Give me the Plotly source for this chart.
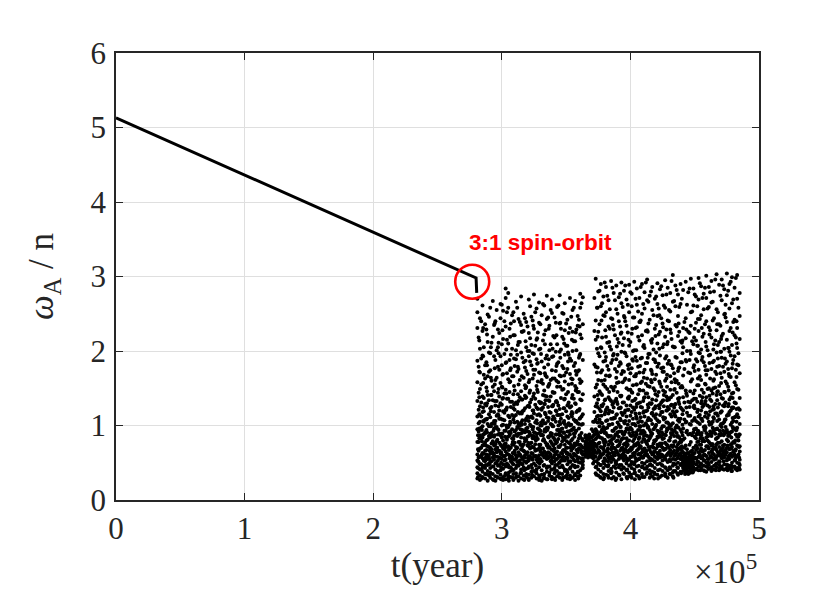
import plotly.graph_objects as go

# t in units of 1e5 years, spin rate in units of n
line_t = [0.0, 2.80, 2.805]
line_w = [5.13, 2.98, 2.78]

# tumbling phase
cloud_t = [2.81, 2.83, 2.85, 2.87, 2.89, 2.91, 2.93, 2.95, 2.97, 2.99,
           3.01, 3.03, 3.05, 3.07, 3.09, 3.11, 3.13, 3.15, 3.17, 3.19,
           3.21, 3.23, 3.25, 3.27, 3.29, 3.31, 3.33, 3.35, 3.37, 3.39,
           3.41, 3.43, 3.45, 3.47, 3.49, 3.51, 3.53, 3.55, 3.57, 3.59,
           3.61, 3.63, 3.65, 3.67, 3.69, 3.71, 3.73, 3.75, 3.77, 3.79,
           3.81, 3.83, 3.85, 3.87, 3.89, 3.91, 3.93, 3.95, 3.97, 3.99,
           4.01, 4.03, 4.05, 4.07, 4.09, 4.11, 4.13, 4.15, 4.17, 4.19,
           4.21, 4.23, 4.25, 4.27, 4.29, 4.31, 4.33, 4.35, 4.37, 4.39,
           4.41, 4.43, 4.45, 4.47, 4.49, 4.51, 4.53, 4.55, 4.57, 4.59,
           4.61, 4.63, 4.65, 4.67, 4.69, 4.71, 4.73, 4.75, 4.77, 4.79,
           4.81, 4.83, 4.85]
cloud_w = [
    [2.70, 2.52, 2.31, 0.44, 1.87, 0.61, 1.33, 0.29, 0.95, 1.12, 0.53, 0.78, 0.36, 1.58],
    [2.44, 0.33, 1.71, 0.87, 0.48, 1.26, 0.27, 2.03, 0.69, 1.05, 0.41, 0.58, 1.49],
    [0.38, 2.61, 1.18, 0.73, 0.31, 1.94, 0.56, 0.99, 1.39, 0.46, 2.27, 0.84, 0.63],
    [1.63, 0.52, 2.36, 0.29, 0.91, 0.66, 1.08, 0.43, 1.81, 0.35, 0.77, 1.29],
    [0.47, 1.41, 0.81, 2.12, 0.34, 0.60, 1.02, 0.26, 1.66, 0.72, 2.49, 0.39, 0.55],
    [2.58, 0.62, 1.23, 0.37, 0.89, 1.74, 0.30, 0.51, 1.97, 0.70, 1.11, 0.43],
    [0.35, 1.52, 0.79, 2.67, 0.45, 1.03, 0.28, 0.64, 2.19, 1.34, 0.57, 0.86],
    [1.88, 0.41, 0.97, 0.32, 2.40, 0.68, 1.27, 0.49, 1.61, 0.75, 0.26, 0.58, 1.06],
    [0.53, 2.29, 0.88, 0.37, 1.44, 0.66, 1.15, 0.30, 1.79, 0.46, 0.95, 2.05],
    [2.63, 0.40, 1.09, 0.74, 0.29, 1.57, 0.56, 2.44, 0.87, 1.30, 0.34, 0.62, 1.93],
    [0.48, 1.37, 0.31, 2.16, 0.80, 0.59, 1.01, 0.27, 1.69, 0.69, 2.54, 0.42, 1.19],
    [2.84, 0.36, 1.21, 2.71, 0.65, 0.93, 0.45, 1.84, 0.28, 1.48, 0.76, 2.33, 0.54],
    [0.61, 2.78, 1.62, 0.33, 0.85, 2.10, 0.47, 1.13, 0.29, 0.72, 2.58, 1.36, 0.98],
    [0.39, 1.04, 0.70, 2.37, 0.52, 1.77, 0.31, 0.90, 1.25, 0.58, 0.44, 1.95],
    [2.52, 0.82, 0.35, 1.42, 0.63, 2.21, 0.27, 1.08, 0.48, 1.66, 0.74, 0.40, 1.23],
    [0.55, 1.89, 0.94, 0.30, 2.66, 0.71, 1.31, 0.43, 2.01, 0.60, 1.14, 0.36],
    [1.55, 0.46, 2.43, 0.78, 0.32, 1.02, 0.64, 1.76, 0.26, 0.89, 1.33, 0.51, 2.12],
    [0.37, 2.73, 1.17, 0.68, 0.49, 1.98, 0.84, 0.29, 1.46, 0.58, 2.35, 1.04, 0.41],
    [0.92, 0.33, 1.64, 0.57, 2.27, 0.75, 1.20, 0.44, 0.28, 1.85, 0.66, 2.50],
    [2.39, 0.50, 1.09, 0.31, 1.73, 0.81, 0.62, 1.38, 0.42, 2.05, 0.96, 0.35, 1.52],
    [0.45, 1.27, 2.69, 0.72, 0.34, 1.93, 0.59, 1.06, 2.24, 0.86, 0.27, 1.58, 0.53],
    [1.81, 0.38, 0.99, 2.46, 0.63, 1.35, 0.30, 0.77, 1.12, 0.47, 2.08, 0.56],
    [0.58, 2.76, 1.43, 0.32, 0.91, 1.68, 0.49, 2.30, 0.70, 1.16, 0.39, 0.83, 1.96],
    [0.41, 1.07, 0.67, 2.57, 1.53, 0.29, 0.85, 1.89, 0.54, 1.24, 0.36, 2.15],
    [2.65, 0.74, 1.32, 0.44, 2.02, 0.60, 0.33, 1.71, 0.95, 0.51, 1.15, 2.38, 0.27],
    [0.52, 1.61, 0.26, 0.88, 2.48, 0.69, 1.21, 0.40, 1.86, 0.61, 1.00, 0.34],
    [1.29, 0.47, 2.61, 0.80, 0.35, 1.47, 0.65, 2.22, 1.03, 0.30, 0.57, 1.78, 0.92],
    [0.38, 2.74, 1.11, 0.62, 1.94, 0.43, 0.97, 2.43, 0.73, 0.28, 1.39, 0.55, 1.65],
    [0.86, 0.33, 1.56, 2.34, 0.58, 1.18, 0.45, 0.71, 2.01, 0.37, 1.33, 0.63],
    [2.69, 0.49, 1.01, 0.31, 1.74, 0.76, 2.51, 0.57, 1.26, 0.41, 0.89, 1.92, 0.28],
    [0.60, 1.44, 0.36, 2.18, 0.82, 0.52, 1.09, 2.45, 0.29, 0.69, 1.63, 0.43],
    [1.83, 0.39, 0.94, 2.59, 0.65, 1.31, 0.47, 0.32, 2.09, 0.78, 1.14, 0.55, 1.52],
    [0.44, 2.75, 1.22, 0.71, 0.30, 1.99, 0.58, 1.05, 2.37, 0.87, 0.36, 1.67, 0.50],
    [0.96, 0.35, 1.48, 2.51, 0.62, 1.15, 0.27, 0.79, 1.80, 0.46, 2.19, 0.57],
    [2.64, 0.53, 1.36, 0.41, 0.83, 2.28, 0.66, 1.02, 0.31, 1.59, 0.74, 1.95, 0.39],
    [0.48, 1.12, 0.29, 2.42, 0.70, 1.76, 0.56, 0.92, 2.07, 0.37, 1.27, 0.63],
    [1.69, 0.42, 2.71, 0.88, 0.33, 1.24, 0.61, 2.31, 0.51, 1.00, 0.76, 1.90, 0.28],
    [0.57, 2.55, 1.41, 0.38, 0.95, 2.00, 0.47, 1.16, 0.69, 0.30, 1.62, 0.82, 2.26],
    [0.35, 1.06, 0.73, 2.67, 1.53, 0.44, 0.60, 2.13, 0.90, 0.27, 1.30, 0.52, 1.84],
    [2.47, 0.64, 1.20, 0.32, 1.72, 0.79, 0.45, 2.34, 1.03, 0.55, 1.45, 0.38],
    [0.50, 2.77, 1.35, 0.85, 2.58, 0.40, 1.96, 0.67, 1.10, 0.33, 2.22, 0.74, 1.57],
    [0.61, 2.72, 1.15, 0.47, 1.88, 0.80, 2.36, 0.55, 1.42, 0.70, 0.43, 1.02, 0.52],
    [0.87, 0.62, 0.78, 0.58, 0.71, 0.66, 0.84, 0.60, 0.74, 0.69],
    [0.64, 0.81, 0.57, 0.73, 0.68, 0.86, 0.61, 0.76, 0.70, 0.59],
    [0.79, 0.63, 0.72, 0.58, 0.84, 0.67, 0.75, 0.61, 0.70],
    [0.66, 0.92, 0.56, 0.80, 1.05, 0.62, 0.74, 0.49, 0.86, 0.70],
    [2.97, 0.58, 1.26, 2.41, 0.73, 0.44, 1.79, 0.95, 2.15, 0.36, 1.08, 0.64, 1.51, 0.82],
    [0.49, 2.80, 1.61, 0.33, 0.87, 2.26, 0.67, 1.13, 0.55, 1.97, 0.41, 0.76, 1.35],
    [2.90, 0.71, 1.04, 2.60, 0.38, 1.43, 0.59, 2.05, 0.91, 0.47, 1.71, 0.30, 1.19],
    [0.62, 2.48, 0.35, 1.29, 0.80, 1.86, 0.52, 2.73, 0.98, 0.43, 1.55, 0.69, 0.28],
    [1.67, 0.46, 2.86, 0.90, 0.34, 2.19, 0.65, 1.21, 0.53, 1.92, 0.78, 2.52, 1.06],
    [0.39, 1.38, 2.68, 0.74, 0.57, 1.75, 0.30, 1.01, 2.33, 0.85, 0.47, 1.16, 0.63],
    [2.94, 0.51, 1.52, 0.86, 2.44, 0.36, 1.09, 0.68, 2.02, 0.42, 1.33, 0.77, 1.84, 0.58],
    [0.70, 2.78, 1.24, 0.45, 1.96, 0.31, 0.93, 2.29, 0.61, 1.47, 0.54, 1.10, 0.83],
    [0.48, 1.64, 2.88, 0.79, 0.37, 1.14, 2.56, 0.66, 1.89, 0.97, 0.52, 1.36, 0.29],
    [2.72, 0.60, 1.01, 0.34, 2.11, 0.85, 1.58, 0.44, 2.40, 0.73, 1.23, 0.55, 1.80],
    [0.41, 2.92, 1.40, 0.69, 0.28, 1.99, 0.92, 2.64, 0.57, 1.17, 0.81, 1.69, 0.47, 2.25],
    [1.05, 0.53, 2.81, 0.35, 1.72, 0.64, 2.17, 0.88, 0.43, 1.31, 0.75, 2.47, 0.59],
    [0.72, 2.69, 1.27, 0.40, 0.96, 1.93, 0.56, 2.34, 0.31, 1.50, 0.83, 1.12, 0.49],
    [2.89, 0.46, 1.61, 0.80, 2.52, 0.37, 1.06, 0.67, 2.07, 0.54, 1.39, 0.90, 1.82, 0.32],
    [0.58, 1.18, 2.77, 0.43, 1.77, 0.86, 0.30, 2.23, 0.68, 1.45, 0.95, 0.51, 2.60],
    [2.93, 0.74, 1.34, 0.36, 2.01, 0.59, 1.02, 2.45, 0.48, 1.66, 0.82, 0.41, 1.21, 0.63],
    [0.45, 2.84, 1.55, 0.88, 0.33, 1.87, 0.66, 2.32, 1.09, 0.53, 1.29, 0.76, 2.62],
    [1.48, 0.62, 2.71, 0.39, 0.99, 2.14, 0.55, 1.71, 0.84, 0.29, 1.16, 0.70, 2.39],
    [0.50, 2.90, 1.24, 0.78, 2.50, 0.35, 1.91, 0.64, 1.05, 0.44, 1.59, 0.92, 2.21, 0.57],
    [2.79, 0.69, 1.38, 0.42, 0.91, 2.04, 0.31, 1.75, 0.60, 2.57, 1.12, 0.81, 0.49],
    [0.61, 2.96, 1.63, 0.37, 1.00, 2.28, 0.75, 1.43, 0.52, 2.68, 0.86, 1.20, 0.45, 1.84],
    [0.40, 1.30, 2.74, 0.83, 0.56, 1.96, 0.30, 1.08, 2.42, 0.67, 1.52, 0.94, 0.47],
    [2.86, 0.54, 1.17, 0.72, 2.16, 0.38, 1.69, 0.89, 2.55, 0.61, 1.35, 0.46, 1.02, 0.32],
    [0.65, 2.70, 1.47, 0.43, 0.97, 1.88, 0.58, 2.30, 0.79, 1.23, 0.35, 1.62, 0.51],
    [2.91, 0.48, 1.07, 0.85, 2.47, 0.34, 1.79, 0.63, 2.10, 0.93, 1.40, 0.55, 0.74, 2.63],
    [0.57, 1.56, 2.83, 0.41, 1.14, 0.76, 2.26, 0.31, 1.94, 0.66, 1.28, 0.87, 0.49],
    [2.75, 0.70, 1.33, 0.46, 0.99, 2.37, 0.60, 1.72, 0.39, 2.05, 0.82, 1.18, 0.53],
    [0.44, 2.95, 1.60, 0.88, 0.33, 2.19, 0.68, 1.10, 2.58, 0.56, 1.45, 0.77, 1.90, 0.36],
    [1.25, 0.62, 2.85, 0.40, 1.83, 0.95, 0.51, 2.41, 0.73, 1.37, 0.30, 1.04, 2.12],
    [0.59, 2.78, 1.15, 0.42, 1.66, 0.84, 2.29, 0.35, 1.00, 0.67, 1.48, 0.52, 2.53],
    [3.02, 0.71, 1.41, 0.37, 2.06, 0.90, 0.55, 2.66, 1.19, 0.46, 1.77, 0.64, 1.03, 0.32],
    [0.48, 2.88, 1.29, 0.79, 2.35, 0.61, 1.58, 0.39, 1.92, 0.97, 0.54, 1.12, 2.60],
    [2.76, 0.66, 1.07, 0.43, 1.73, 0.86, 2.20, 0.34, 1.36, 0.58, 0.75, 2.47, 0.50],
    [0.55, 2.90, 1.51, 0.38, 0.94, 2.13, 0.70, 1.24, 2.63, 0.47, 1.85, 0.81, 0.62, 1.09],
    [0.45, 2.82, 0.58, 1.20, 0.39, 2.31, 0.52, 0.96, 1.67, 0.64, 0.43, 2.05, 0.49, 0.81, 1.38],
    [0.41, 2.93, 0.55, 1.47, 0.36, 0.62, 2.44, 0.47, 1.04, 0.53, 1.88, 0.40, 0.73, 2.17, 0.59],
    [0.50, 1.13, 0.38, 2.79, 0.57, 0.44, 1.71, 0.63, 2.26, 0.35, 0.88, 0.48, 1.32, 0.54],
    [0.37, 2.97, 0.60, 0.46, 1.59, 0.52, 2.52, 0.40, 1.01, 0.65, 1.96, 0.43, 0.78, 0.56, 2.34],
    [0.62, 2.84, 1.25, 0.44, 0.55, 2.09, 0.39, 0.91, 1.78, 0.50, 2.61, 0.70, 1.43],
    [0.48, 2.73, 1.06, 0.67, 1.89, 0.41, 2.38, 0.83, 1.36, 0.56, 2.14, 0.96, 0.73],
    [2.98, 0.58, 1.54, 0.45, 2.27, 0.79, 1.12, 2.69, 0.64, 1.75, 0.51, 0.92, 1.98, 0.40],
    [0.69, 2.87, 1.30, 0.43, 0.87, 2.02, 0.56, 2.48, 1.09, 0.74, 1.61, 0.49, 1.20],
    [2.77, 0.53, 1.44, 0.40, 1.85, 0.66, 2.23, 0.98, 0.46, 1.27, 0.80, 2.56, 0.60],
    [0.50, 3.01, 1.17, 0.72, 2.40, 0.38, 1.68, 0.90, 2.71, 0.59, 1.38, 0.45, 2.06, 0.84],
    [2.86, 0.63, 1.05, 0.47, 1.94, 0.78, 2.32, 0.55, 1.50, 0.69, 1.14, 0.42, 2.59],
    [0.57, 2.94, 1.33, 0.86, 2.18, 0.44, 1.76, 0.65, 2.65, 1.02, 0.51, 1.47, 0.73, 0.39],
    [0.46, 2.80, 1.22, 0.70, 2.44, 0.54, 1.62, 0.93, 2.09, 0.41, 1.09, 0.61, 1.87],
    [3.03, 0.67, 1.41, 0.49, 2.56, 0.83, 1.98, 0.58, 1.16, 2.28, 0.44, 0.75, 1.69, 0.95],
    [0.52, 2.89, 1.08, 0.40, 1.80, 0.71, 2.36, 0.62, 1.29, 0.88, 2.12, 0.47, 1.53],
    [2.96, 0.60, 1.37, 0.45, 2.20, 0.79, 1.64, 0.56, 2.68, 0.98, 0.42, 1.19, 0.68, 1.91],
    [0.48, 2.83, 1.26, 0.74, 2.49, 0.57, 1.72, 0.41, 2.03, 0.89, 1.45, 0.63, 1.05],
    [3.04, 0.64, 1.56, 0.43, 2.39, 0.81, 1.13, 2.75, 0.53, 1.86, 0.70, 2.15, 0.47, 0.94],
    [0.55, 2.90, 1.18, 0.68, 2.27, 0.46, 1.66, 0.87, 2.57, 0.60, 1.35, 0.42, 1.99],
    [2.99, 0.71, 1.43, 0.50, 2.08, 0.92, 1.77, 0.58, 2.64, 1.04, 0.44, 1.24, 0.76, 0.39],
    [0.53, 2.85, 1.31, 0.77, 2.42, 0.61, 1.58, 0.45, 1.93, 0.96, 2.21, 0.66, 1.11],
    [3.02, 0.59, 1.49, 0.43, 2.31, 0.85, 1.15, 2.70, 0.50, 1.82, 0.73, 2.04, 0.40, 0.97],
    [0.47, 2.78, 1.21, 0.65, 2.16, 0.54, 1.70, 0.88, 2.47, 0.41, 1.37, 0.72, 1.02],
]

# in-between samples, mostly in the middle of the band
cloud_t2 = [2.82, 2.84, 2.86, 2.88, 2.90, 2.92, 2.94, 2.96, 2.98, 3.00,
            3.02, 3.04, 3.06, 3.08, 3.10, 3.12, 3.14, 3.16, 3.18, 3.20,
            3.22, 3.24, 3.26, 3.28, 3.30, 3.32, 3.34, 3.36, 3.38, 3.40,
            3.42, 3.44, 3.46, 3.48, 3.50, 3.52, 3.54, 3.56, 3.58, 3.60,
            3.62, 3.66, 3.68, 3.70, 3.72, 3.74, 3.76, 3.78, 3.80, 3.82,
            3.84, 3.86, 3.88, 3.90, 3.92, 3.94, 3.96, 3.98, 4.00, 4.02,
            4.04, 4.06, 4.08, 4.10, 4.12, 4.14, 4.16, 4.18, 4.20, 4.22,
            4.24, 4.26, 4.28, 4.30, 4.32, 4.34, 4.36, 4.38, 4.40, 4.42,
            4.44, 4.46, 4.48, 4.50, 4.52, 4.54, 4.56, 4.58, 4.60, 4.62,
            4.64, 4.66, 4.68, 4.70, 4.72, 4.74, 4.76, 4.78, 4.80, 4.82,
            4.84]
cloud_w2 = [
    [0.66, 1.44, 0.92, 2.18, 0.51, 1.21, 0.78, 1.79, 0.57, 1.03],
    [1.12, 0.59, 2.40, 0.83, 1.55, 0.70, 1.31, 0.48, 0.97, 1.90],
    [0.74, 1.68, 0.53, 1.05, 2.05, 0.88, 1.37, 0.62, 1.19, 0.45],
    [1.27, 0.67, 0.94, 2.29, 0.55, 1.51, 0.80, 1.85, 1.08, 0.61],
    [0.58, 1.15, 0.86, 1.72, 0.49, 2.46, 0.99, 1.34, 0.71, 1.98],
    [1.41, 0.76, 2.11, 0.63, 1.02, 1.60, 0.52, 0.90, 1.25, 0.68],
    [0.85, 1.93, 0.60, 1.18, 0.73, 2.35, 1.46, 0.54, 1.06, 0.96],
    [0.64, 1.33, 0.98, 2.01, 0.50, 1.64, 0.79, 1.13, 2.55, 0.70],
    [1.09, 0.57, 1.75, 0.89, 2.24, 0.66, 1.39, 0.77, 1.20, 0.47],
    [0.72, 1.52, 0.61, 2.09, 1.00, 0.84, 1.81, 0.55, 1.28, 2.62],
    [1.17, 0.68, 1.96, 0.53, 1.43, 0.93, 2.40, 0.75, 1.07, 0.59],
    [0.81, 2.52, 1.24, 0.62, 1.70, 0.97, 0.49, 2.15, 1.36, 0.71],
    [0.56, 1.58, 0.87, 2.30, 1.11, 0.69, 1.88, 0.60, 1.01, 1.45],
    [1.32, 0.74, 2.03, 0.58, 0.95, 1.66, 0.50, 2.48, 1.14, 0.83],
    [0.63, 1.21, 0.92, 1.80, 0.54, 2.21, 1.47, 0.77, 1.04, 0.66],
    [1.05, 0.59, 1.72, 0.86, 2.58, 0.70, 1.29, 0.51, 1.95, 0.98],
    [0.78, 1.38, 0.61, 2.12, 1.00, 0.89, 1.61, 0.53, 2.39, 1.16],
    [1.19, 0.67, 1.91, 0.55, 1.35, 0.94, 2.26, 0.72, 1.07, 0.48],
    [0.60, 1.54, 1.02, 2.44, 0.79, 1.23, 0.57, 1.78, 0.91, 1.40],
    [1.26, 0.73, 2.00, 0.52, 1.12, 0.85, 1.69, 0.64, 2.33, 0.97],
    [0.69, 1.47, 0.88, 2.17, 0.58, 1.31, 1.01, 0.76, 1.86, 2.60],
    [1.10, 0.62, 1.63, 0.95, 2.41, 0.71, 1.20, 0.54, 1.97, 0.83],
    [0.75, 2.07, 1.36, 0.59, 1.04, 1.75, 0.66, 2.52, 0.90, 1.28],
    [1.22, 0.57, 1.84, 0.82, 1.45, 0.68, 2.25, 0.96, 0.51, 1.59],
    [0.65, 1.30, 0.93, 2.36, 1.13, 0.74, 1.70, 0.55, 2.03, 1.00],
    [1.41, 0.80, 2.14, 0.60, 1.07, 1.56, 0.69, 2.63, 0.87, 1.24],
    [0.58, 1.67, 1.03, 0.77, 2.28, 0.92, 1.34, 0.63, 1.90, 1.15],
    [1.06, 0.70, 1.52, 2.45, 0.56, 1.25, 0.85, 1.82, 0.97, 0.64],
    [0.79, 1.39, 0.61, 2.09, 1.17, 0.90, 1.61, 0.52, 2.55, 1.02],
    [1.28, 0.66, 1.93, 0.84, 1.44, 0.57, 2.20, 0.99, 1.12, 0.73],
    [0.62, 1.73, 1.05, 2.38, 0.76, 1.32, 0.55, 1.99, 0.88, 1.20],
    [1.14, 0.71, 1.58, 0.94, 2.61, 0.60, 1.27, 0.82, 1.85, 1.00],
    [0.87, 2.02, 1.37, 0.63, 1.09, 1.66, 0.53, 2.30, 0.95, 0.74],
    [1.23, 0.58, 1.77, 0.81, 2.16, 1.04, 0.67, 1.49, 2.50, 0.91],
    [0.70, 1.42, 0.98, 2.07, 0.56, 1.19, 0.86, 1.71, 0.64, 2.37],
    [1.31, 0.77, 2.24, 0.61, 1.10, 1.55, 0.92, 1.95, 0.52, 1.03],
    [0.66, 1.63, 1.01, 2.46, 0.80, 1.26, 0.58, 1.87, 1.15, 0.73],
    [1.08, 0.62, 1.80, 0.89, 2.13, 0.71, 1.36, 0.97, 2.58, 0.54],
    [0.76, 1.50, 0.59, 2.01, 1.18, 0.93, 1.68, 0.67, 2.29, 1.06],
    [1.20, 0.69, 1.91, 0.83, 2.42, 1.02, 0.57, 1.45, 0.96, 1.74],
    [0.63, 1.34, 2.64, 0.90, 1.12, 2.17, 0.72, 1.59, 0.55, 1.01],
    [0.80, 0.63, 0.72, 0.85, 0.67, 0.59, 0.77],
    [0.71, 0.83, 0.60, 0.76, 0.65, 0.88, 0.69],
    [0.62, 0.78, 0.95, 0.68, 0.84, 0.58, 0.73],
    [0.67, 1.39, 0.88, 2.27, 1.05, 0.59, 1.82, 2.71, 0.76, 1.18, 0.52],
    [1.12, 0.71, 2.03, 0.92, 1.55, 2.58, 0.63, 1.30, 0.84, 1.71],
    [0.58, 1.46, 0.99, 2.36, 0.77, 1.22, 1.93, 0.65, 2.81, 1.08],
    [1.26, 0.83, 1.74, 0.61, 2.18, 1.03, 2.64, 0.70, 1.41, 0.95],
    [0.73, 1.61, 0.90, 2.47, 1.15, 0.56, 1.98, 0.81, 1.34, 2.92],
    [1.07, 0.66, 2.11, 0.87, 1.49, 2.74, 0.60, 1.24, 0.97, 1.80],
    [0.62, 1.35, 1.01, 2.30, 0.79, 1.67, 0.55, 2.06, 1.19, 2.56],
    [1.18, 0.75, 1.88, 0.93, 2.43, 0.64, 1.28, 2.85, 1.02, 0.57],
    [0.69, 1.52, 0.86, 2.21, 1.10, 0.60, 1.76, 2.68, 0.96, 1.33],
    [1.29, 0.80, 1.95, 0.63, 2.50, 1.04, 1.45, 0.72, 2.16, 0.91],
    [0.57, 1.40, 0.98, 2.33, 0.78, 1.23, 1.85, 2.77, 0.66, 1.09],
    [1.14, 0.70, 2.08, 0.89, 1.58, 0.61, 2.59, 1.31, 0.83, 1.73],
    [0.76, 1.63, 1.06, 2.40, 0.59, 1.20, 1.97, 0.92, 2.88, 0.68],
    [1.21, 0.64, 1.81, 0.95, 2.25, 0.74, 1.37, 2.62, 1.01, 0.55],
    [0.66, 1.48, 0.87, 2.12, 1.13, 0.58, 1.70, 2.79, 0.97, 1.27],
    [1.09, 0.79, 2.00, 0.62, 1.54, 2.45, 0.91, 1.24, 0.71, 1.87],
    [0.73, 1.36, 1.00, 2.31, 0.56, 1.66, 0.85, 2.70, 1.16, 1.92],
    [1.30, 0.68, 1.79, 0.94, 2.19, 0.61, 1.42, 2.53, 1.04, 0.77],
    [0.60, 1.57, 0.89, 2.41, 1.11, 0.72, 1.90, 2.86, 0.99, 1.25],
    [1.17, 0.65, 2.06, 0.82, 1.47, 2.63, 0.57, 1.33, 0.93, 1.71],
    [0.78, 1.43, 1.03, 2.27, 0.63, 1.19, 1.84, 0.87, 2.92, 1.56],
    [1.24, 0.71, 1.96, 0.58, 2.37, 0.98, 1.38, 2.66, 0.80, 1.10],
    [0.64, 1.61, 0.91, 2.14, 1.07, 0.55, 1.75, 2.80, 1.29, 0.86],
    [1.13, 0.76, 2.02, 0.95, 1.50, 2.48, 0.62, 1.22, 0.70, 1.89],
    [0.69, 1.34, 1.01, 2.35, 0.81, 1.68, 0.57, 2.73, 1.15, 1.98],
    [1.27, 0.63, 1.83, 0.90, 2.22, 0.74, 1.45, 2.57, 1.05, 0.59],
    [0.72, 1.52, 0.96, 2.44, 1.18, 0.61, 1.77, 2.87, 0.85, 1.31],
    [1.08, 0.67, 2.09, 0.83, 1.41, 2.61, 0.58, 1.26, 0.99, 1.72],
    [0.75, 1.39, 1.04, 2.29, 0.60, 1.63, 0.92, 2.76, 1.20, 1.93],
    [1.22, 0.70, 1.87, 0.97, 2.40, 0.64, 1.35, 2.55, 1.02, 0.80],
    [0.62, 1.58, 0.88, 2.16, 1.12, 0.73, 1.81, 2.94, 0.95, 1.28],
    [1.16, 0.66, 2.05, 0.86, 1.48, 2.67, 0.59, 1.24, 0.78, 1.70],
    [0.71, 1.44, 1.00, 2.33, 0.63, 1.19, 1.91, 2.82, 0.90, 1.60],
    [1.29, 0.77, 1.78, 0.61, 2.26, 1.05, 1.37, 2.59, 0.84, 0.69],
    [0.58, 0.66, 1.53, 0.49, 2.11, 0.91, 1.22, 0.72, 2.70, 0.55, 1.85],
    [0.52, 0.61, 1.08, 0.45, 1.76, 0.70, 2.39, 0.57, 1.31, 0.48, 0.83],
    [0.46, 0.68, 1.40, 0.54, 2.00, 0.63, 0.93, 2.62, 0.50, 1.17, 0.42],
    [0.60, 0.51, 1.25, 0.44, 1.88, 0.74, 2.24, 0.56, 1.02, 0.47, 2.84],
    [0.55, 1.62, 0.48, 0.87, 2.13, 0.66, 1.34, 2.53, 0.59, 1.06, 0.45],
    [0.63, 1.47, 0.85, 2.30, 1.10, 0.57, 1.73, 2.76, 0.95, 1.23],
    [1.18, 0.69, 2.07, 0.90, 1.54, 2.60, 0.52, 1.32, 0.78, 1.86],
    [0.74, 1.40, 1.02, 2.43, 0.61, 1.66, 0.88, 2.91, 1.14, 1.97],
    [1.25, 0.65, 1.92, 0.83, 2.19, 0.56, 1.38, 2.71, 1.06, 0.79],
    [0.67, 1.56, 0.94, 2.36, 1.12, 0.60, 1.80, 2.85, 0.99, 1.30],
    [1.10, 0.72, 2.01, 0.86, 1.49, 2.57, 0.55, 1.27, 0.80, 1.74],
    [0.59, 1.35, 1.03, 2.28, 0.76, 1.63, 0.92, 2.79, 1.19, 1.95],
    [1.21, 0.68, 1.85, 0.97, 2.41, 0.62, 1.43, 2.66, 1.05, 0.75],
    [0.71, 1.51, 0.89, 2.14, 1.16, 0.57, 1.72, 2.96, 0.95, 1.29],
    [1.13, 0.64, 2.08, 0.84, 1.46, 2.52, 0.60, 1.24, 0.77, 1.90],
    [0.66, 1.42, 1.00, 2.34, 0.59, 1.70, 0.87, 2.74, 1.17, 1.99],
    [1.27, 0.73, 1.79, 0.93, 2.23, 0.63, 1.36, 2.88, 1.03, 0.70],
    [0.61, 1.59, 0.90, 2.45, 1.08, 0.67, 1.83, 2.62, 0.98, 1.31],
    [1.15, 0.70, 2.04, 0.86, 1.52, 2.81, 0.58, 1.26, 0.79, 1.76],
    [0.74, 1.38, 1.01, 2.31, 0.62, 1.65, 0.91, 2.93, 1.20, 1.94],
    [1.24, 0.65, 1.88, 0.96, 2.39, 0.60, 1.44, 2.69, 1.06, 0.78],
    [0.68, 1.54, 0.88, 2.18, 1.12, 0.57, 1.75, 2.98, 0.94, 1.30],
    [1.11, 0.72, 1.97, 0.85, 1.48, 2.58, 0.61, 1.23, 0.80, 1.81],
]

# extra samples in the lower part of the band
cloud_t3 = [2.815, 2.845, 2.875, 2.905, 2.935, 2.965, 2.995, 3.025, 3.055, 3.085,
            3.115, 3.145, 3.175, 3.205, 3.235, 3.265, 3.295, 3.325, 3.355, 3.385,
            3.415, 3.445, 3.475, 3.505, 3.535, 3.565, 3.595, 3.625,
            3.735, 3.765, 3.795, 3.825, 3.855, 3.885, 3.915, 3.945, 3.975, 4.005,
            4.035, 4.065, 4.095, 4.125, 4.155, 4.185, 4.215, 4.245, 4.275, 4.305,
            4.335, 4.365, 4.395, 4.425, 4.455, 4.485, 4.515, 4.545, 4.575, 4.605,
            4.635, 4.665, 4.695, 4.725, 4.755, 4.785, 4.815, 4.845]
cloud_w3 = [
    [0.31, 0.52, 0.68, 0.87, 0.43], [0.42, 0.29, 0.61, 0.79, 0.94],
    [0.35, 0.57, 0.73, 0.47, 0.90], [0.48, 0.33, 0.66, 0.84, 0.55],
    [0.27, 0.45, 0.76, 0.62, 0.93], [0.39, 0.58, 0.81, 0.31, 0.70],
    [0.50, 0.28, 0.64, 0.89, 0.44], [0.33, 0.47, 0.72, 0.59, 0.85],
    [0.44, 0.37, 0.26, 0.67, 0.91], [0.30, 0.55, 0.78, 0.41, 0.63],
    [0.46, 0.32, 0.69, 0.88, 0.57], [0.36, 0.49, 0.74, 0.60, 0.95],
    [0.52, 0.27, 0.65, 0.83, 0.40], [0.29, 0.43, 0.77, 0.56, 0.92],
    [0.43, 0.34, 0.62, 0.86, 0.71], [0.38, 0.59, 0.80, 0.46, 0.67],
    [0.49, 0.30, 0.70, 0.54, 0.90], [0.34, 0.46, 0.63, 0.82, 0.29],
    [0.45, 0.28, 0.75, 0.58, 0.94], [0.31, 0.53, 0.68, 0.87, 0.41],
    [0.47, 0.39, 0.27, 0.64, 0.80], [0.35, 0.50, 0.72, 0.58, 0.89],
    [0.53, 0.30, 0.66, 0.84, 0.44], [0.40, 0.57, 0.79, 0.33, 0.62],
    [0.29, 0.44, 0.70, 0.52, 0.93], [0.46, 0.33, 0.61, 0.85, 0.76],
    [0.37, 0.51, 0.74, 0.29, 0.68], [0.51, 0.43, 0.65, 0.82, 0.56],
    [0.34, 0.52, 0.73, 0.90, 0.45], [0.47, 0.31, 0.62, 0.84, 0.57],
    [0.30, 0.49, 0.77, 0.66, 0.93], [0.45, 0.33, 0.69, 0.52, 0.86],
    [0.38, 0.56, 0.81, 0.29, 0.71], [0.50, 0.27, 0.64, 0.88, 0.43],
    [0.33, 0.47, 0.75, 0.60, 0.92], [0.44, 0.36, 0.67, 0.83, 0.55],
    [0.29, 0.53, 0.79, 0.41, 0.65], [0.48, 0.34, 0.70, 0.58, 0.95],
    [0.37, 0.51, 0.63, 0.87, 0.28], [0.55, 0.32, 0.74, 0.46, 0.82],
    [0.31, 0.45, 0.68, 0.90, 0.57], [0.42, 0.60, 0.78, 0.35, 0.66],
    [0.35, 0.48, 0.71, 0.86, 0.53], [0.52, 0.37, 0.65, 0.29, 0.80],
    [0.40, 0.29, 0.61, 0.84, 0.72], [0.47, 0.58, 0.76, 0.33, 0.91],
    [0.32, 0.43, 0.69, 0.54, 0.87], [0.54, 0.35, 0.80, 0.62, 0.44],
    [0.39, 0.49, 0.73, 0.30, 0.93], [0.44, 0.56, 0.67, 0.85, 0.36],
    [0.36, 0.59, 0.78, 0.48, 0.70], [0.41, 0.35, 0.55, 0.46, 0.60],
    [0.38, 0.49, 0.43, 0.57, 0.36], [0.45, 0.40, 0.52, 0.37, 0.61],
    [0.42, 0.56, 0.72, 0.48, 0.88], [0.47, 0.40, 0.66, 0.83, 0.58],
    [0.39, 0.53, 0.79, 0.61, 0.94], [0.50, 0.42, 0.70, 0.86, 0.47],
    [0.41, 0.57, 0.75, 0.64, 0.90], [0.48, 0.40, 0.68, 0.82, 0.55],
    [0.43, 0.51, 0.77, 0.62, 0.93], [0.52, 0.41, 0.65, 0.87, 0.58],
    [0.40, 0.55, 0.73, 0.91, 0.47], [0.46, 0.39, 0.69, 0.84, 0.60],
    [0.42, 0.54, 0.80, 0.66, 0.95], [0.49, 0.43, 0.71, 0.88, 0.57],
]

# extra samples in the middle of the band
cloud_t4 = [2.825, 2.855, 2.885, 2.915, 2.945, 2.975, 3.005, 3.035, 3.065, 3.095,
            3.125, 3.155, 3.185, 3.215, 3.245, 3.275, 3.305, 3.335, 3.365, 3.395,
            3.425, 3.455, 3.485, 3.515, 3.545, 3.575, 3.605,
            3.745, 3.775, 3.805, 3.835, 3.865, 3.895, 3.925, 3.955, 3.985, 4.015,
            4.045, 4.075, 4.105, 4.135, 4.165, 4.195, 4.225, 4.255, 4.285, 4.315,
            4.345, 4.375, 4.405, 4.435, 4.465, 4.495, 4.525, 4.555, 4.585, 4.615,
            4.645, 4.675, 4.705, 4.735, 4.765, 4.795, 4.825]
cloud_w4 = [
    [0.96, 1.38, 1.72, 2.14, 1.15, 0.83], [1.24, 0.88, 1.57, 1.93, 1.06, 2.31],
    [1.09, 1.46, 0.91, 1.81, 2.22, 1.30], [0.85, 1.19, 1.64, 2.05, 1.41, 0.99],
    [1.33, 1.02, 1.77, 0.87, 2.37, 1.55], [1.13, 0.94, 1.49, 1.97, 1.26, 2.11],
    [0.89, 1.36, 1.68, 1.08, 2.28, 1.51], [1.21, 1.00, 1.85, 1.43, 0.84, 2.02],
    [1.05, 1.59, 0.92, 1.32, 2.19, 1.74], [1.28, 0.86, 1.53, 1.12, 1.90, 2.40],
    [0.97, 1.42, 1.79, 1.18, 2.08, 0.88], [1.16, 1.35, 0.90, 1.66, 2.26, 1.01],
    [1.37, 1.07, 1.87, 0.93, 1.50, 2.13], [0.91, 1.25, 1.61, 2.00, 1.11, 1.44],
    [1.20, 0.98, 1.75, 1.39, 2.34, 0.86], [1.03, 1.48, 1.83, 1.14, 0.89, 2.17],
    [1.31, 0.87, 1.58, 1.96, 1.22, 1.04], [0.95, 1.40, 1.70, 2.09, 1.17, 1.29],
    [1.10, 1.54, 0.84, 1.89, 2.30, 1.34], [1.26, 0.99, 1.63, 1.08, 2.03, 1.45],
    [0.88, 1.33, 1.80, 1.19, 2.21, 1.60], [1.14, 1.02, 1.52, 1.91, 0.92, 2.38],
    [1.35, 0.90, 1.67, 1.23, 2.10, 1.06], [1.01, 1.45, 1.86, 0.85, 1.28, 1.98],
    [1.18, 0.94, 1.56, 2.15, 1.37, 1.12], [0.93, 1.29, 1.73, 1.05, 2.25, 1.47],
    [1.22, 1.09, 1.62, 0.87, 1.94, 2.33],
    [1.04, 1.41, 1.78, 2.19, 0.89, 1.25, 2.58], [1.27, 0.92, 1.60, 2.04, 1.13, 2.41],
    [0.96, 1.35, 1.87, 1.18, 2.28, 1.52], [1.20, 1.01, 1.66, 2.12, 0.86, 1.45],
    [1.09, 1.50, 0.93, 1.94, 2.35, 1.30], [1.32, 0.88, 1.72, 1.15, 2.06, 1.57],
    [0.98, 1.39, 1.83, 2.23, 1.07, 1.24], [1.17, 1.03, 1.61, 1.98, 0.90, 2.45],
    [1.36, 0.95, 1.76, 1.21, 2.15, 1.48], [1.02, 1.44, 1.89, 0.87, 1.33, 2.30],
    [1.25, 0.91, 1.55, 2.01, 1.12, 1.69], [0.94, 1.31, 1.80, 1.06, 2.39, 1.47],
    [1.19, 1.00, 1.64, 2.08, 1.37, 0.86], [1.07, 1.53, 0.97, 1.91, 2.26, 1.28],
    [1.30, 0.89, 1.73, 1.16, 2.11, 1.58], [0.99, 1.42, 1.85, 2.20, 1.10, 1.26],
    [1.23, 1.05, 1.59, 0.92, 2.03, 2.48], [1.11, 1.47, 0.88, 1.78, 2.32, 1.34],
    [1.34, 0.96, 1.68, 1.20, 2.09, 1.52], [1.00, 1.38, 1.82, 0.90, 1.27, 2.24],
    [1.28, 0.93, 1.62, 2.05, 1.14, 1.49], [0.97, 1.32, 1.77, 1.09, 2.37, 1.56],
    [1.15, 1.01, 1.51, 1.97, 0.87, 2.14], [1.05, 1.43, 0.91, 1.86, 1.24, 2.29],
    [1.31, 0.89, 1.70, 1.13, 2.00, 1.46], [0.95, 1.36, 1.81, 2.18, 1.08, 1.27],
    [1.21, 1.04, 1.63, 0.93, 2.07, 2.43], [1.09, 1.48, 0.90, 1.88, 2.31, 1.33],
    [1.33, 0.97, 1.74, 1.17, 2.12, 1.55], [1.01, 1.40, 1.84, 0.88, 1.25, 2.22],
    [1.26, 0.94, 1.60, 2.02, 1.11, 1.50], [0.96, 1.34, 1.79, 1.06, 2.36, 1.45],
    [1.18, 1.02, 1.57, 1.99, 0.89, 2.16], [1.08, 1.45, 0.92, 1.90, 1.29, 2.50],
    [1.29, 0.87, 1.69, 1.14, 2.04, 1.47], [0.98, 1.37, 1.83, 2.25, 1.10, 1.23],
    [1.22, 1.05, 1.65, 0.94, 2.10, 2.40],
]

# the 3:1 resonance marker and its label
res_t = [2.77]
res_w = [2.93]
res_label = "3:1 spin-orbit"
label_t = 3.30
label_w = 3.45

x_ticks = [0, 1, 2, 3, 4, 5]
y_ticks = [0, 1, 2, 3, 4, 5, 6]

SERIF = "Liberation Serif"
AXIS_GREY = "#262626"
GRID_GREY = "#dfdfdf"


def flatten_cloud(ts, ws):
    xs, ys = [], []
    for t, col in zip(ts, ws):
        for w in col:
            xs.append(t)
            ys.append(w)
    return xs, ys


def build_figure():
    cx, cy = flatten_cloud(cloud_t + cloud_t2 + cloud_t3 + cloud_t4,
                           cloud_w + cloud_w2 + cloud_w3 + cloud_w4)
    fig = go.Figure()
    fig.add_trace(go.Scatter(x=line_t, y=line_w, mode="lines",
                             line=dict(color="black", width=3),
                             hoverinfo="skip"))
    fig.add_trace(go.Scatter(x=cx, y=cy, mode="markers",
                             marker=dict(color="black", size=4.0, line=dict(width=0)),
                             hoverinfo="skip"))
    fig.add_trace(go.Scatter(x=res_t, y=res_w, mode="markers",
                             marker=dict(symbol="circle-open", size=34,
                                         color="#ff0000", line=dict(width=2.6)),
                             hoverinfo="skip"))
    fig.add_annotation(x=label_t, y=label_w, text="<b>" + res_label + "</b>",
                       showarrow=False, xanchor="center", yanchor="middle",
                       font=dict(family="Liberation Sans", size=22.5, color="#ff0000"))
    fig.add_annotation(x=1, y=0, xref="paper", yref="paper",
                       text="×10<sup>5</sup>", showarrow=False,
                       xanchor="right", yanchor="bottom", yshift=-92, xshift=0,
                       font=dict(family=SERIF, size=33, color=AXIS_GREY))

    axis_common = dict(showline=True, linecolor=AXIS_GREY, linewidth=1.5,
                       mirror="ticks", ticks="inside", ticklen=7, tickwidth=1.2,
                       tickcolor=AXIS_GREY, showgrid=True, gridcolor=GRID_GREY,
                       gridwidth=1, zeroline=False,
                       tickfont=dict(family=SERIF, size=31, color=AXIS_GREY))
    fig.update_xaxes(range=[0, 5], tickvals=x_ticks, ticklabelstandoff=0,
                     title=dict(text="t(year)", standoff=8,
                                font=dict(family=SERIF, size=35, color=AXIS_GREY)),
                     **axis_common)
    fig.update_yaxes(range=[0, 6], tickvals=y_ticks, ticklabelstandoff=2,
                     title=dict(text="<i>ω</i><sub>A</sub> / n", standoff=26,
                                font=dict(family=SERIF, size=35, color=AXIS_GREY)),
                     **axis_common)
    fig.update_layout(width=830, height=591, showlegend=False,
                      plot_bgcolor="white", paper_bgcolor="white",
                      margin=dict(l=108, r=79, t=45, b=99))
    return fig


if __name__ == "__main__":
    fig = build_figure()
    fig.write_html("out.html")
